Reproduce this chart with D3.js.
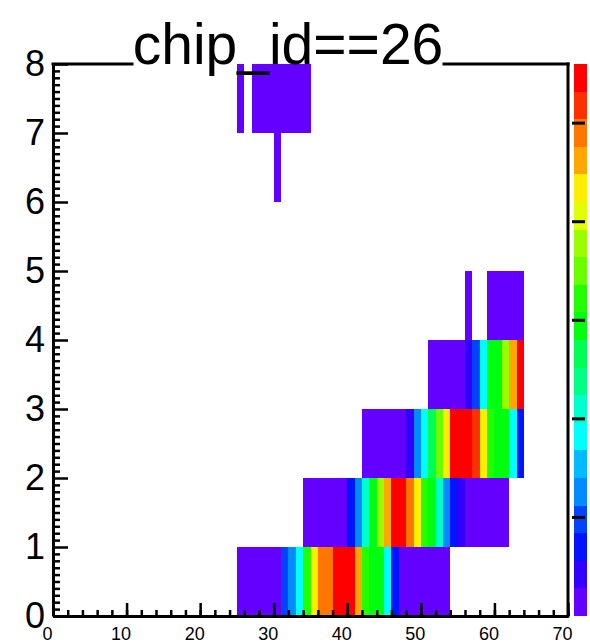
<!DOCTYPE html>
<html>
<head>
<meta charset="utf-8">
<script src="https://cdn.jsdelivr.net/npm/d3@7"></script>
<style>
  body { margin: 0; background: #fff; }
  svg { display: block; }
  text { font-family: "Liberation Sans", Arial, Helvetica, sans-serif; fill: #000; }
</style>
</head>
<body>
<svg id="chart" width="590" height="643"></svg>
<script>
// ---- data -------------------------------------------------------------
const chartTitle = "chip_id==26";
const xTickLabels = [0, 10, 20, 30, 40, 50, 60, 70];
const yTickLabels = [0, 1, 2, 3, 4, 5, 6, 7, 8];
const zTickValues = [10, 20, 30, 40, 50];
const zMax = 56;

// hit counts per row: each strip starts at a column and runs rightwards
const row0Start = 25;
const row0Counts = [2,1,2,1,2,2, 9,13,18,33,43,48,49,56,55,54,45,32,30,29,19,8, 2,1,2,2,1,2,1];
const row1Start = 34;
const row1Counts = [2,1,2,2,1,2, 8,13,20,29,37,46,56,55,49,44,32,29,22,13,8,4, 2,1,2,2,1,2];
const row2Start = 42;
const row2Counts = [2,1,2,2,1,2, 5,13,18,27,35,43,54,56,55,53,43,31,29,29,18,8];
const row3Start = 51;
const row3Counts = [2,1,2,2,1, 4,11,18,28,30,38,45,54];
const row4aStart = 56;
const row4aCounts = [1];
const row4bStart = 59;
const row4bCounts = [2,1,2,1,2];
const row6Start = 30;
const row6Counts = [1];
const row7aStart = 25;
const row7aCounts = [1];
const row7bStart = 27;
const row7bCounts = [2,1,2,2,1,2,1,2];

const strips = [
  { row: 0, start: row0Start, counts: row0Counts },
  { row: 1, start: row1Start, counts: row1Counts },
  { row: 2, start: row2Start, counts: row2Counts },
  { row: 3, start: row3Start, counts: row3Counts },
  { row: 4, start: row4aStart, counts: row4aCounts },
  { row: 4, start: row4bStart, counts: row4bCounts },
  { row: 6, start: row6Start, counts: row6Counts },
  { row: 7, start: row7aStart, counts: row7aCounts },
  { row: 7, start: row7bStart, counts: row7bCounts }
];
const cells = strips.flatMap(s => s.counts.map((c, i) => ({ col: s.start + i, row: s.row, value: c })));

// ---- layout -----------------------------------------------------------
const frame = { left: 53, right: 568, top: 64, bottom: 616 };
const svg = d3.select("#chart");

const x = d3.scaleLinear().domain([0, 70]).range([frame.left, frame.right]);
const y = d3.scaleLinear().domain([0, 8]).range([frame.bottom, frame.top]);
const z = d3.scaleLinear().domain([0, zMax]).range([frame.bottom, frame.top]);

// 50-colour violet->red palette sampled on 20 contour levels
const nColors = 50, nLevels = 20;
const palette = d3.range(nColors).map(i => d3.hsl(280 - (i + 1) * 280 / nColors, 1, 0.5).formatHex());
const levelColors = d3.range(nLevels).map(k => palette[Math.floor((k + 0.99) * nColors / nLevels)]);
const color = d3.scaleQuantize().domain([0, zMax]).range(levelColors);

// ---- cells ------------------------------------------------------------
svg.append("g")
  .attr("shape-rendering", "crispEdges")
  .selectAll("rect")
  .data(cells)
  .join("rect")
  .attr("x", d => x(d.col))
  .attr("width", d => x(d.col + 1) - x(d.col))
  .attr("y", d => y(d.row + 1))
  .attr("height", d => y(d.row) - y(d.row + 1))
  .attr("fill", d => color(d.value));

// ---- colour bar -------------------------------------------------------
const barX = 574, barW = 13;
svg.append("g")
  .attr("shape-rendering", "crispEdges")
  .selectAll("rect")
  .data(d3.range(nLevels))
  .join("rect")
  .attr("x", barX)
  .attr("width", barW)
  .attr("y", k => z((k + 1) * zMax / nLevels))
  .attr("height", k => z(k * zMax / nLevels) - z((k + 1) * zMax / nLevels))
  .attr("fill", k => levelColors[k]);

svg.append("g")
  .selectAll("line")
  .data(zTickValues)
  .join("line")
  .attr("x1", barX - 2).attr("x2", barX + 11)
  .attr("y1", d => z(d)).attr("y2", d => z(d))
  .attr("stroke", "#000").attr("stroke-width", 3);

// ---- axes -------------------------------------------------------------
const fontStack = "'Liberation Sans', Arial, Helvetica, sans-serif";

// x minor ticks
svg.append("g")
  .attr("transform", `translate(0,${frame.bottom})`)
  .call(d3.axisBottom(x).tickValues(d3.range(0, 71, 2)).tickSize(-6).tickSizeOuter(0).tickFormat(""))
  .call(g => g.select(".domain").remove())
  .call(g => g.selectAll("line").attr("stroke-width", 2.5));

// x major ticks + labels
svg.append("g")
  .attr("transform", `translate(0,${frame.bottom})`)
  .call(d3.axisBottom(x).tickValues(xTickLabels).tickSize(-13).tickSizeOuter(0).tickFormat(d3.format("d")))
  .call(g => g.select(".domain").attr("stroke-width", 3))
  .call(g => g.selectAll("line").attr("stroke-width", 2.5))
  .call(g => g.selectAll("text")
    .attr("y", 24).attr("dy", null).attr("dx", -6)
    .attr("font-family", fontStack).attr("font-size", 18).attr("fill", "#000"));

// y minor ticks
svg.append("g")
  .attr("transform", `translate(${frame.left},0)`)
  .call(d3.axisLeft(y).tickValues(d3.range(0, 80).map(i => i / 10).filter(v => Math.abs(v - Math.round(v)) > 1e-6))
    .tickSize(-7).tickSizeOuter(0).tickFormat(""))
  .call(g => g.select(".domain").remove())
  .call(g => g.selectAll("line").attr("stroke-width", 2.5));

// y major ticks + labels
svg.append("g")
  .attr("transform", `translate(${frame.left},0)`)
  .call(d3.axisLeft(y).tickValues(yTickLabels).tickSize(-15).tickSizeOuter(0).tickPadding(8).tickFormat(d3.format("d")))
  .call(g => g.select(".domain").attr("stroke-width", 3))
  .call(g => g.selectAll("line").attr("stroke-width", 2.5))
  .call(g => g.selectAll("text")
    .attr("font-family", fontStack).attr("font-size", 36).attr("fill", "#000"));

// remaining frame edges (top edge is interrupted by the title)
const titleX = 288, titleY = 64, titleSize = 57;
const frameLines = [
  [frame.right, frame.top, frame.right, frame.bottom],
  [frame.left, frame.top, 132, frame.top],
  [444, frame.top, frame.right, frame.top]
];
svg.append("g")
  .selectAll("line")
  .data(frameLines)
  .join("line")
  .attr("x1", d => d[0]).attr("y1", d => d[1])
  .attr("x2", d => d[2]).attr("y2", d => d[3])
  .attr("stroke", "#000").attr("stroke-width", 3).attr("stroke-linecap", "square");

// ---- title ------------------------------------------------------------
svg.append("text")
  .attr("x", titleX).attr("y", titleY)
  .attr("text-anchor", "middle")
  .attr("font-size", titleSize)
  .text(chartTitle);
</script>
</body>
</html>
